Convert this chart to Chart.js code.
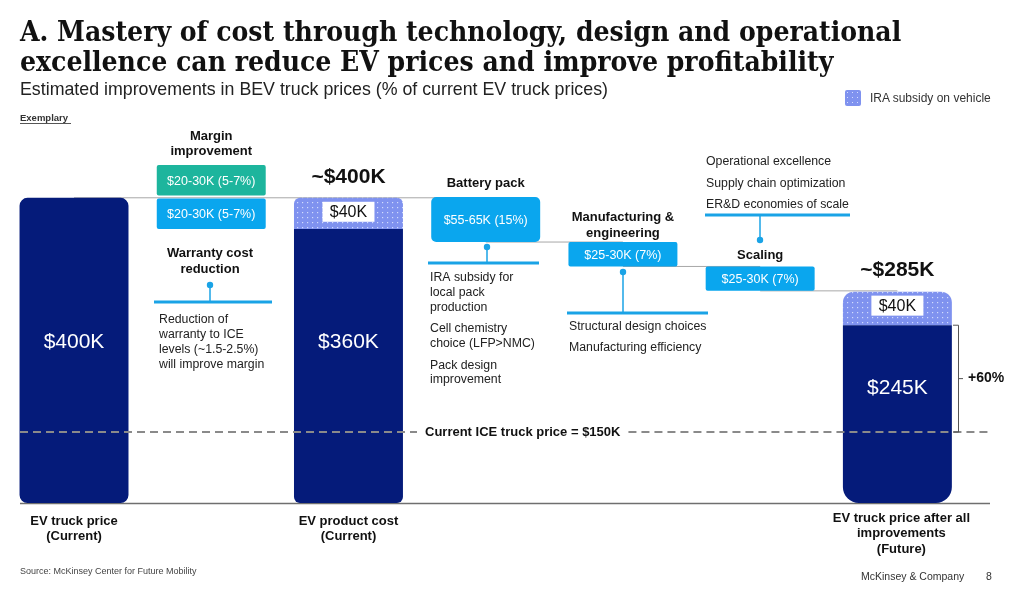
<!DOCTYPE html>
<html>
<head>
<meta charset="utf-8">
<script src="https://cdn.jsdelivr.net/npm/chart.js@4.4.0/dist/chart.umd.min.js"></script>
<style>
  body { margin: 0; background: #fff; }
  #wrap { position: relative; width: 1024px; height: 596px; overflow: hidden; font-family: "Liberation Sans", Arial, sans-serif; }
  canvas { position: absolute; left: 0; top: 0; }
  .title { position: absolute; left: 20px; top: 17px; font-family: "DejaVu Serif Condensed", "DejaVu Serif", serif; font-stretch: condensed; font-weight: bold; font-size: 28px; line-height: 30px; color: #111; white-space: nowrap; }
  .sub { position: absolute; left: 20px; top: 79px; font-size: 17.8px; color: #222; }
  .exem { position: absolute; left: 20px; top: 112px; font-size: 9.5px; font-weight: bold; color: #333; border-bottom: 1px solid #555; padding-right: 3px; }
  .legend { position: absolute; left: 845px; top: 90px; font-size: 12px; color: #333; }
  .legend span.sw { position: absolute; left: 0; top: 0; width: 16px; height: 16px; border-radius: 2px; background: #7f92ef; background-image: radial-gradient(#d6ddff 0.8px, transparent 1px); background-size: 5px 5px; }
  .legend span.t { position: absolute; left: 25px; top: 1px; white-space: nowrap; }
  .src { position: absolute; left: 20px; top: 566px; font-size: 9px; color: #444; }
  .foot { position: absolute; left: 861px; top: 570px; font-size: 10.5px; color: #333; }
  .page { position: absolute; left: 986px; top: 570px; font-size: 10.5px; color: #333; }
</style>
</head>
<body>
<div id="wrap">
  <canvas id="chart" width="1024" height="596"></canvas>
  <div class="title">A. Mastery of cost through technology, design and operational<br>excellence can reduce EV prices and improve profitability</div>
  <div class="sub">Estimated improvements in BEV truck prices (% of current EV truck prices)</div>
  <div class="exem">Exemplary</div>
  <div class="legend"><span class="sw"></span><span class="t">IRA subsidy on vehicle</span></div>
  <div class="src">Source: McKinsey Center for Future Mobility</div>
  <div class="foot">McKinsey &amp; Company</div>
  <div class="page">8</div>
</div>
<script>
// Categories of the waterfall
const categories = [
  ["EV truck price", "(Current)"],
  ["Margin", "improvement"],
  ["EV product cost", "(Current)"],
  ["Battery pack"],
  ["Manufacturing &", "engineering"],
  ["Scaling"],
  ["EV truck price after all", "improvements", "(Future)"]
];

// Plotted levels (the original is not drawn to scale), in $K
const baseBars     = [[0, 400], null, [0, 359], null, null, null, [0, 233]];
const subsidyBars  = [null, null, [359, 400], null, null, null, [233, 277]];
const stepBars     = [null, [359, 399], [0, 0], [342, 401], [310, 342], [278, 310], null];
const marginTop    = [null, [403, 443], null, null, null, null, null];

// Labels
const baseLabels    = ["$400K", null, "$360K", null, null, null, "$245K"];
const stepLabels    = [null, "$20-30K (5-7%)", null, "$55-65K (15%)", "$25-30K (7%)", "$25-30K (7%)", null];
const marginLabel   = "$20-30K (5-7%)";
const subsidyLabel  = "$40K";
const totalLabels   = [null, null, "~$400K", null, null, null, "~$285K"];
const iceLevel      = 93;   // plotted level of the ICE price line
const iceLabel      = "Current ICE truck price = $150K";
const upliftLabel   = "+60%";

const NAVY = "#051b7a";
const BLUE = "#0aa6ee";
const TEAL = "#1db59d";
const LINE = "#1aa3e6";

// dotted pattern for the subsidy
function makePattern() {
  let p = document.createElement("canvas");
  p.width = 5; p.height = 5;
  let c = p.getContext("2d");
  c.fillStyle = "#7f92ef";
  c.fillRect(0, 0, 5, 5);
  c.fillStyle = "rgba(225,232,255,0.85)";
  c.fillRect(2, 2, 1.2, 1.2);
  return c.createPattern(p, "repeat");
}

function txt(ctx, s, x, y, font, color, align) {
  ctx.font = font;
  ctx.fillStyle = color;
  ctx.textAlign = align || "center";
  ctx.textBaseline = "middle";
  ctx.fillText(s, x, y);
}

function hline(ctx, x1, x2, y, color, w, dash) {
  ctx.save();
  ctx.strokeStyle = color;
  ctx.lineWidth = w;
  ctx.setLineDash(dash || []);
  ctx.beginPath();
  ctx.moveTo(x1, y); ctx.lineTo(x2, y);
  ctx.stroke();
  ctx.restore();
}

function vline(ctx, x, y1, y2, color, w) {
  ctx.save();
  ctx.strokeStyle = color;
  ctx.lineWidth = w;
  ctx.beginPath();
  ctx.moveTo(x, y1); ctx.lineTo(x, y2);
  ctx.stroke();
  ctx.restore();
}

function dot(ctx, x, y) {
  ctx.fillStyle = LINE;
  ctx.beginPath();
  ctx.arc(x, y, 3.2, 0, Math.PI * 2);
  ctx.fill();
}

const BOLD = "bold 13px 'Liberation Sans', Arial, sans-serif";
const REG = "12.3px 'Liberation Sans', Arial, sans-serif";

// connector lines between steps (drawn below the bars)
const connectors = {
  id: "connectors",
  beforeDatasetsDraw(chart) {
    let ctx = chart.ctx, x = chart.scales.x, y = chart.scales.y;
    hline(ctx, x.getPixelForValue(0), x.getPixelForValue(3), y.getPixelForValue(400), "#a8a8a8", 1);
    hline(ctx, x.getPixelForValue(3), x.getPixelForValue(4), y.getPixelForValue(342), "#a8a8a8", 1);
    hline(ctx, x.getPixelForValue(4), x.getPixelForValue(5), y.getPixelForValue(310), "#a8a8a8", 1);
    hline(ctx, x.getPixelForValue(5), x.getPixelForValue(6), y.getPixelForValue(278), "#a8a8a8", 1);
    // baseline
    hline(ctx, 20, 990, y.getPixelForValue(0) + 0.5, "#6f6f6f", 1.5);
  }
};

// labels and callouts
const annotations = {
  id: "annotations",
  afterDatasetsDraw(chart) {
    let ctx = chart.ctx, x = chart.scales.x, y = chart.scales.y;
    ctx.save();

    // values inside the navy bars
    const baseLabelY = [342, null, 342, null, null, null, 388];
    baseLabels.forEach((s, i) => {
      if (s) txt(ctx, s, x.getPixelForValue(i), baseLabelY[i], "21px 'Liberation Sans', Arial, sans-serif", "#fff");
    });

    // step box labels
    stepLabels.forEach((s, i) => {
      if (!s) return;
      let v = stepBars[i];
      txt(ctx, s, x.getPixelForValue(i), y.getPixelForValue((v[0] + v[1]) / 2) + 1, "12.5px 'Liberation Sans', Arial, sans-serif", "#fff");
    });
    let mv = marginTop[1];
    txt(ctx, marginLabel, x.getPixelForValue(1), y.getPixelForValue((mv[0] + mv[1]) / 2) + 1, "12.5px 'Liberation Sans', Arial, sans-serif", "#fff");

    // subsidy white tags
    subsidyBars.forEach((v, i) => {
      if (!v) return;
      let cx = x.getPixelForValue(i), cy = y.getPixelForValue(v[1]) + 14;
      ctx.fillStyle = "#fff";
      ctx.fillRect(cx - 26, cy - 10, 52, 20);
      txt(ctx, subsidyLabel, cx, cy + 1, "16px 'Liberation Sans', Arial, sans-serif", "#111");
    });

    // totals above the bars
    totalLabels.forEach((s, i) => {
      if (s) txt(ctx, s, x.getPixelForValue(i), y.getPixelForValue(subsidyBars[i][1]) - 21, "bold 21px 'Liberation Sans', Arial, sans-serif", "#111");
    });

    // category labels below the axis
    [0, 2, 6].forEach(i => {
      let lines = categories[i];
      let top = lines.length === 3 ? 518 : 521;
      lines.forEach((l, k) => txt(ctx, l, x.getPixelForValue(i) + (i === 6 ? 4 : 0), top + k * 15.5, BOLD, "#111"));
    });

    // step headers
    txt(ctx, "Margin", x.getPixelForValue(1), 136, BOLD, "#111");
    txt(ctx, "improvement", x.getPixelForValue(1), 151, BOLD, "#111");
    txt(ctx, "Battery pack", x.getPixelForValue(3), 183, BOLD, "#111");
    txt(ctx, "Manufacturing &", x.getPixelForValue(4), 217, BOLD, "#111");
    txt(ctx, "engineering", x.getPixelForValue(4), 233, BOLD, "#111");
    txt(ctx, "Scaling", x.getPixelForValue(5), 255, BOLD, "#111");

    // margin: warranty callout
    txt(ctx, "Warranty cost", 210, 253, BOLD, "#111");
    txt(ctx, "reduction", 210, 269, BOLD, "#111");
    dot(ctx, 210, 285); vline(ctx, 210, 285, 302, LINE, 1.5);
    hline(ctx, 154, 272, 302, LINE, 3);
    ["Reduction of", "warranty to ICE", "levels (~1.5-2.5%)", "will improve margin"].forEach((s, k) =>
      txt(ctx, s, 159, 320 + k * 15, REG, "#222", "left"));

    // battery callout
    dot(ctx, 487, 247); vline(ctx, 487, 247, 263, LINE, 1.5);
    hline(ctx, 428, 539, 263, LINE, 3);
    [["IRA subsidy for", 278], ["local pack", 293], ["production", 308], ["Cell chemistry", 329],
     ["choice (LFP>NMC)", 344], ["Pack design", 366], ["improvement", 380]].forEach(r =>
      txt(ctx, r[0], 430, r[1], REG, "#222", "left"));

    // manufacturing callout
    dot(ctx, 623, 272); vline(ctx, 623, 272, 313, LINE, 1.5);
    hline(ctx, 567, 708, 313, LINE, 3);
    txt(ctx, "Structural design choices", 569, 327, REG, "#222", "left");
    txt(ctx, "Manufacturing efficiency", 569, 348, REG, "#222", "left");

    // scaling callout
    txt(ctx, "Operational excellence", 706, 162, REG, "#222", "left");
    txt(ctx, "Supply chain optimization", 706, 184, REG, "#222", "left");
    txt(ctx, "ER&D economies of scale", 706, 205, REG, "#222", "left");
    hline(ctx, 705, 850, 215, LINE, 3);
    vline(ctx, 760, 215, 240, LINE, 1.5); dot(ctx, 760, 240);

    // ICE dashed line
    let iy = y.getPixelForValue(iceLevel);
    ctx.font = BOLD;
    let tw = ctx.measureText(iceLabel).width;
    let tx = 425;
    hline(ctx, 20, tx - 8, iy, "#8a8a8a", 2, [8, 5]);
    hline(ctx, tx + tw + 8, 992, iy, "#8a8a8a", 2, [8, 5]);
    txt(ctx, iceLabel, tx, iy, BOLD, "#111", "left");

    // +60% bracket
    let by1 = y.getPixelForValue(subsidyBars[6][0]);
    ctx.strokeStyle = "#555"; ctx.lineWidth = 1;
    ctx.beginPath();
    ctx.moveTo(953, by1); ctx.lineTo(958.5, by1); ctx.lineTo(958.5, iy); ctx.lineTo(953, iy);
    ctx.moveTo(958.5, (by1 + iy) / 2); ctx.lineTo(963, (by1 + iy) / 2);
    ctx.stroke();
    txt(ctx, upliftLabel, 968, (by1 + iy) / 2, "bold 14px 'Liberation Sans', Arial, sans-serif", "#111", "left");

    ctx.restore();
  }
};

window.onload = () => {
  let ctx = document.getElementById("chart").getContext("2d");
  let pattern = makePattern();

  const common = { grouped: false, barPercentage: 0.794, categoryPercentage: 1, borderSkipped: false, borderWidth: 0 };

  new Chart(ctx, {
    type: "bar",
    data: {
      labels: categories.map(c => c.join(" ")),
      datasets: [
        Object.assign({
          label: "Cost",
          data: baseBars,
          backgroundColor: NAVY,
          borderRadius: c => c.dataIndex === 0 ? 8 :
            c.dataIndex === 2 ? { topLeft: 0, topRight: 0, bottomLeft: 6, bottomRight: 6 } :
            { topLeft: 0, topRight: 0, bottomLeft: 16, bottomRight: 16 }
        }, common),
        Object.assign({
          label: "IRA subsidy on vehicle",
          data: subsidyBars,
          backgroundColor: pattern,
          borderRadius: c => c.dataIndex === 2 ? { topLeft: 6, topRight: 6, bottomLeft: 0, bottomRight: 0 } :
            { topLeft: 11, topRight: 11, bottomLeft: 0, bottomRight: 0 }
        }, common),
        Object.assign({
          label: "Improvement",
          data: stepBars,
          backgroundColor: BLUE,
          borderRadius: c => c.dataIndex === 3 ? 5 : 2
        }, common),
        Object.assign({
          label: "Margin",
          data: marginTop,
          backgroundColor: TEAL,
          borderRadius: 2
        }, common)
      ]
    },
    options: {
      responsive: false,
      animation: false,
      layout: { padding: { left: 5.4, right: 58, top: 152, bottom: 93 } },
      plugins: { legend: { display: false }, tooltip: { enabled: false }, title: { display: false } },
      scales: {
        x: { display: false, offset: true, grid: { display: false } },
        y: { display: false, min: 0, max: 460 }
      }
    },
    plugins: [connectors, annotations]
  });
};
</script>
</body>
</html>
